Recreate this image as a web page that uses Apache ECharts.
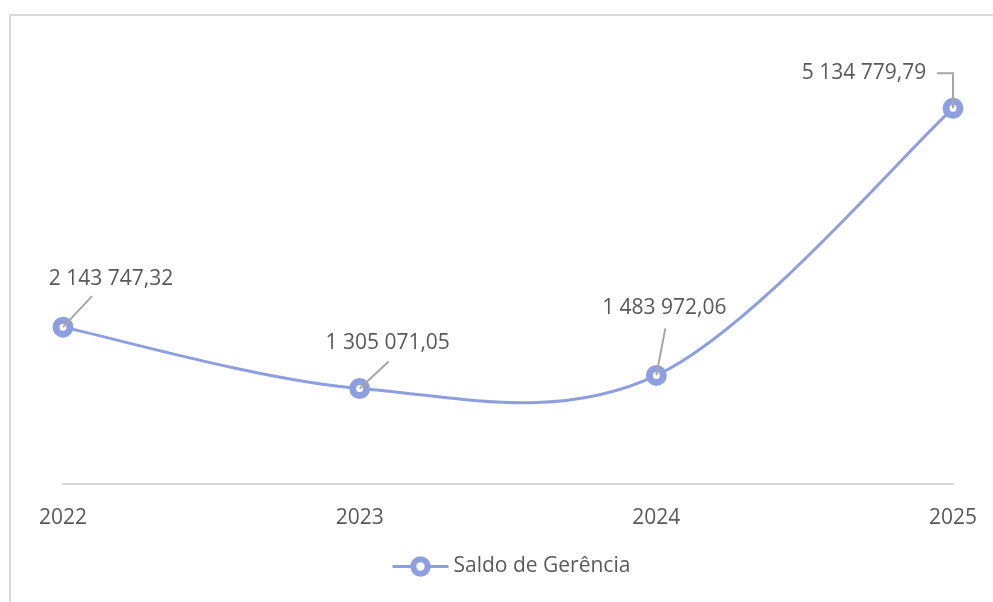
<!DOCTYPE html>
<html>
<head>
<meta charset="utf-8">
<script src="https://cdn.jsdelivr.net/npm/echarts@6/dist/echarts.min.js"></script>
<style>
  html, body { margin: 0; padding: 0; background: #fff; overflow: hidden; }
  #frame { position: absolute; left: 9px; top: 14px; width: 1100px; height: 700px; border: 2px solid #d9d9d9; box-sizing: border-box; }
  #chart { position: absolute; left: 0; top: 0; width: 993px; height: 602px; }
</style>
</head>
<body>
<div id="frame"></div>
<div id="chart"></div>
<script>
// chart data
var years = ['2022', '2023', '2024', '2025'];
var saldo = [2143747.32, 1305071.05, 1483972.06, 5134779.79];
var seriesName = 'Saldo de Gerência';

// label placement relative to each point: label centre shift, then leader line points
var labelShift = [[48, -48], [28, -45], [8, -67], [-89, -35]];
var leaderPts = [[[29, -31]], [[29, -27]], [[9, -47]], [[0, -35], [-16, -35]]];

function fmt(v) {
    var parts = v.toFixed(2).split('.');
    var intPart = parts[0].replace(/\B(?=(\d{3})+(?!\d))/g, ' ');
    return intPart + ',' + parts[1];
}

var lineColor = '#8e9fdf';
var textColor = '#595959';

var dom = document.getElementById('chart');
var myChart = echarts.init(dom);

// excel style smoothing (catmull-rom, 1/6 tangents)
function renderCurve(params, api) {
    var i = params.dataIndex;
    var n = saldo.length;
    if (i >= n - 1) return null;
    var pt = function (k) {
        k = Math.max(0, Math.min(n - 1, k));
        return api.coord([k, saldo[k]]);
    };
    var p0 = pt(i - 1), p1 = pt(i), p2 = pt(i + 1), p3 = pt(i + 2);
    return {
        type: 'bezierCurve',
        shape: {
            x1: p1[0], y1: p1[1],
            cpx1: p1[0] + (p2[0] - p0[0]) / 6, cpy1: p1[1] + (p2[1] - p0[1]) / 6,
            cpx2: p2[0] - (p3[0] - p1[0]) / 6, cpy2: p2[1] - (p3[1] - p1[1]) / 6,
            x2: p2[0], y2: p2[1]
        },
        style: { stroke: lineColor, lineWidth: 3, fill: null }
    };
}

// gray leader lines from point to its label
function renderLeader(params, api) {
    var i = params.dataIndex;
    var p = api.coord([i, saldo[i]]);
    var pts = [p];
    leaderPts[i].forEach(function (d) { pts.push([p[0] + d[0], p[1] + d[1]]); });
    return {
        type: 'polyline',
        shape: { points: pts },
        style: { stroke: '#a6a6a6', lineWidth: 2, fill: null }
    };
}

var xyData = saldo.map(function (v, i) { return [i, v]; });

var option = {
    animation: false,
    textStyle: { fontFamily: 'Open Sans, Noto Sans, sans-serif' },
    grid: { left: 63, right: 40, top: 45, bottom: 118 },
    xAxis: {
        type: 'category',
        data: years,
        boundaryGap: false,
        axisLine: { lineStyle: { color: '#d9d9d9', width: 2 } },
        axisTick: { show: false },
        axisLabel: { color: textColor, fontSize: 21, margin: 24 }
    },
    yAxis: {
        type: 'value',
        min: 0,
        max: 6000000,
        show: false,
        splitLine: { show: false }
    },
    legend: {
        bottom: 20,
        left: 386,
        itemWidth: 56,
        itemHeight: 18,
        itemGap: 6,
        textStyle: { color: textColor, fontSize: 21 },
        data: [{
            name: seriesName,
            lineStyle: { color: lineColor, width: 3, opacity: 1 },
            itemStyle: { color: '#ffffff', borderColor: lineColor, borderWidth: 6 }
        }]
    },
    series: [{
        name: 'curve',
        type: 'custom',
        data: xyData,
        renderItem: renderCurve,
        silent: true,
        z: 1
    }, {
        name: seriesName,
        type: 'line',
        data: saldo,
        z: 2,
        symbol: 'circle',
        symbolSize: 14,
        lineStyle: { color: lineColor, width: 3, opacity: 0 },
        itemStyle: { color: '#ffffff', borderColor: lineColor, borderWidth: 7 },
        label: {
            show: true,
            position: 'inside',
            color: textColor,
            fontSize: 21,
            formatter: function (p) { return fmt(p.value); }
        },
        labelLayout: function (params) {
            var s = labelShift[params.dataIndex];
            return { dx: s[0], dy: s[1] };
        }
    }, {
        name: 'leaders',
        type: 'custom',
        data: xyData,
        renderItem: renderLeader,
        silent: true,
        z: 3
    }]
};

myChart.setOption(option);
</script>
</body>
</html>
